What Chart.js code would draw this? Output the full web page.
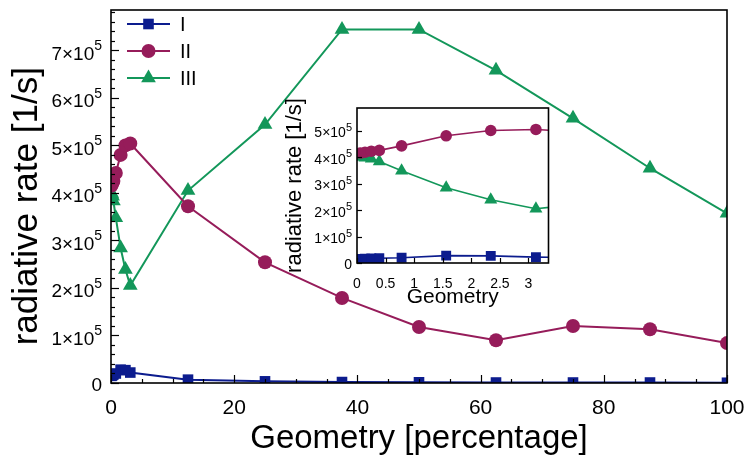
<!DOCTYPE html>
<html>
<head>
<meta charset="utf-8">
<script src="https://cdn.jsdelivr.net/npm/chart.js@4.4.1/dist/chart.umd.min.js"></script>
<style>
  html, body { margin: 0; padding: 0; background: #fff; }
  #wrap { position: relative; width: 749px; height: 461px; overflow: hidden; }
  #main { position: absolute; left: 0; top: 0; }
  #inset { position: absolute; left: 280px; top: 96px; }
</style>
</head>
<body>
<div id="wrap">
  <canvas id="main" width="749" height="461"></canvas>
  <canvas id="inset" width="276" height="214"></canvas>
</div>
<script>
// values, rates in 1/s
const geometry = [0.06, 0.14, 0.25, 0.39, 0.78, 1.56, 2.34, 3.13, 12.5, 25, 37.5, 50, 62.5, 75, 87.5, 100];
const rateI   = [15000, 16000, 17000, 18000, 20000, 28000, 27000, 22000, 7000, 3500, 2000, 1500, 1000, 1000, 1000, 500];
const rateII  = [415000, 418000, 422000, 425000, 442000, 480000, 500000, 504000, 372000, 254000, 179000, 118000, 90000, 120000, 113000, 84000];
const rateIII = [400000, 397000, 393000, 383000, 348000, 284000, 239000, 205000, 405000, 544000, 744000, 744000, 658000, 557000, 452000, 357000];

const seriesNames = ['I', 'II', 'III'];
const seriesColours = ['#0c1c8e', '#961c5a', '#13975a'];
const seriesMarkers = ['rect', 'circle', 'triangle'];

const mainXTicks = [0, 20, 40, 60, 80, 100];
const mainYTicks = [0, 100000, 200000, 300000, 400000, 500000, 600000, 700000];
const insetXTicks = [0, 0.5, 1, 1.5, 2, 2.5, 3];
const insetYTicks = [0, 100000, 200000, 300000, 400000, 500000];

const FONT = '"Liberation Sans", Arial, Helvetica, sans-serif';

function points(ys) {
  return geometry.map((x, i) => ({ x: x, y: ys[i] }));
}

// frame around the plot area + inward tick marks (gnuplot look)
const frameTicks = {
  id: 'frameTicks',
  afterDraw(chart, args, opts) {
    const { ctx, chartArea: a, scales } = chart;
    ctx.save();
    ctx.strokeStyle = '#000';
    ctx.lineWidth = 1.2;
    const mark = (scale, v, len) => {
      const p = Math.round(scale.getPixelForValue(v)) + 0.5;
      ctx.beginPath();
      if (scale.isHorizontal()) { ctx.moveTo(p, a.bottom); ctx.lineTo(p, a.bottom - len); }
      else { ctx.moveTo(a.left, p); ctx.lineTo(a.left + len, p); }
      ctx.stroke();
    };
    [['x', opts.xStep], ['y', opts.yStep]].forEach(([id, step]) => {
      const s = scales[id];
      const majors = s.ticks.map(t => t.value);
      for (let v = s.min; v <= s.max + 1e-9; v += step) {
        const isMajor = majors.some(m => Math.abs(m - v) < step / 10);
        mark(s, v, isMajor ? opts.major : opts.minor);
      }
    });
    ctx.lineWidth = 1.6;
    ctx.strokeRect(a.left, a.top, a.right - a.left, a.bottom - a.top);
    ctx.restore();
  }
};

// y tick labels written as "n×10" with a raised exponent
const sciTicks = {
  id: 'sciTicks',
  afterDraw(chart, args, opts) {
    const { ctx, chartArea: a, scales } = chart;
    const s = scales.y;
    const baseFont = opts.base + 'px ' + FONT;
    const supFont = opts.sup + 'px ' + FONT;
    ctx.save();
    ctx.fillStyle = '#000';
    ctx.textBaseline = 'middle';
    ctx.textAlign = 'right';
    s.ticks.forEach(t => {
      const y = s.getPixelForValue(t.value);
      const right = a.left - opts.gap;
      if (t.value === 0) {
        ctx.font = baseFont;
        ctx.fillText('0', right, y + opts.baseDy - 1);
        return;
      }
      ctx.font = supFont;
      ctx.fillText('5', right, y + opts.supDy);
      const w = ctx.measureText('5').width;
      ctx.font = baseFont;
      ctx.fillText((t.value / 1e5) + '\u00d710', right - w, y + opts.baseDy);
    });
    ctx.restore();
  }
};

function drawMarker(ctx, style, x, y, r) {
  ctx.beginPath();
  if (style === 'circle') ctx.arc(x, y, r, 0, Math.PI * 2);
  else if (style === 'rect') { const s = r * Math.SQRT1_2; ctx.rect(x - s, y - s, 2 * s, 2 * s); }
  else {
    ctx.moveTo(x, y - r);
    ctx.lineTo(x + r * 0.866, y + r * 0.5);
    ctx.lineTo(x - r * 0.866, y + r * 0.5);
    ctx.closePath();
  }
  ctx.fill();
}

// legend inside the top-left corner: line + marker + name
const insideLegend = {
  id: 'insideLegend',
  afterDraw(chart, args, opts) {
    if (!opts.rows) return;
    const ctx = chart.ctx;
    ctx.save();
    ctx.font = '20px ' + FONT;
    ctx.textBaseline = 'middle';
    chart.data.datasets.forEach((ds, i) => {
      const y = opts.rows[i];
      ctx.strokeStyle = ds.borderColor;
      ctx.fillStyle = ds.borderColor;
      ctx.lineWidth = 2;
      ctx.beginPath();
      ctx.moveTo(opts.x0, y);
      ctx.lineTo(opts.x1, y);
      ctx.stroke();
      drawMarker(ctx, ds.pointStyle, (opts.x0 + opts.x1) / 2, y, ds.pointRadius);
      ctx.fillStyle = '#000';
      ctx.fillText(ds.label, opts.x1 + 10, y + 1);
    });
    ctx.restore();
  }
};

function makeDatasets(radii, width) {
  return [rateI, rateII, rateIII].map((ys, i) => ({
    label: seriesNames[i],
    data: points(ys),
    showLine: true,
    borderColor: seriesColours[i],
    backgroundColor: seriesColours[i],
    borderWidth: width,
    pointStyle: seriesMarkers[i],
    pointRadius: radii[i],
    pointBorderWidth: 0,
    tension: 0
  }));
}

function setTicks(list) {
  return scale => { scale.ticks = list.map(v => ({ value: v })); };
}

// keep chart.js from adding label overhang to the plot margins
function fixSize(w, h) {
  return s => {
    if (w) s.width = w;
    if (h) s.height = h;
    s.paddingTop = 0; s.paddingBottom = 0; s.paddingLeft = 0; s.paddingRight = 0;
  };
}

new Chart(document.getElementById('main'), {
  type: 'scatter',
  data: { datasets: makeDatasets([7.5, 7, 8.5], 2) },
  plugins: [frameTicks, sciTicks, insideLegend],
  options: {
    responsive: false,
    animation: false,
    layout: { padding: { top: 10, right: 22, left: 0, bottom: 0 } },
    plugins: {
      legend: { display: false },
      tooltip: { enabled: false },
      frameTicks: { xStep: 5, yStep: 20000, major: 8, minor: 4 },
      sciTicks: { base: 19, sup: 14, gap: 9, baseDy: 4, supDy: -4 },
      insideLegend: { x0: 127, x1: 170, rows: [24, 51, 78] }
    },
    scales: {
      x: {
        type: 'linear', min: 0, max: 100,
        afterBuildTicks: setTicks(mainXTicks),
        afterFit: fixSize(0, 78),
        grid: { display: false },
        border: { display: false },
        ticks: { color: '#000', padding: 5, font: { family: FONT, size: 21 }, maxRotation: 0, callback: v => String(v) },
        title: { display: true, text: 'Geometry [percentage]', color: '#000', padding: { top: 0, bottom: 2 }, font: { family: FONT, size: 33 } }
      },
      y: {
        type: 'linear', min: 0, max: 785000,
        afterBuildTicks: setTicks(mainYTicks),
        afterFit: fixSize(111, 0),
        grid: { display: false },
        border: { display: false },
        ticks: { display: false },
        title: { display: true, text: 'radiative rate [1/s]  ', color: '#000', padding: { top: 6, bottom: 0 }, font: { family: FONT, size: 35 } }
      }
    }
  }
});

new Chart(document.getElementById('inset'), {
  type: 'scatter',
  data: { datasets: makeDatasets([7, 5.8, 7.5], 1.6) },
  plugins: [frameTicks, sciTicks],
  options: {
    responsive: false,
    animation: false,
    layout: { padding: { top: 12, right: 7, left: 0, bottom: 0 } },
    plugins: {
      legend: { display: false },
      tooltip: { enabled: false },
      frameTicks: { xStep: 0.5, yStep: 100000, major: 5, minor: 3 },
      sciTicks: { base: 14, sup: 11, gap: 5, baseDy: 3, supDy: -3 }
    },
    scales: {
      x: {
        type: 'linear', min: 0, max: 3.35,
        afterBuildTicks: setTicks(insetXTicks),
        afterFit: fixSize(0, 47),
        grid: { display: false },
        border: { display: false },
        ticks: { color: '#000', padding: 5, font: { family: FONT, size: 14 }, maxRotation: 0, callback: v => String(v) },
        title: { display: true, text: 'Geometry', color: '#000', padding: { top: 0, bottom: 0 }, font: { family: FONT, size: 21 } }
      },
      y: {
        type: 'linear', min: 0, max: 585000,
        afterBuildTicks: setTicks(insetYTicks),
        afterFit: fixSize(77, 0),
        grid: { display: false },
        border: { display: false },
        ticks: { display: false },
        title: { display: true, text: 'radiative rate [1/s]', color: '#000', padding: { top: 2, bottom: 0 }, font: { family: FONT, size: 22 } }
      }
    }
  }
});
</script>
</body>
</html>
